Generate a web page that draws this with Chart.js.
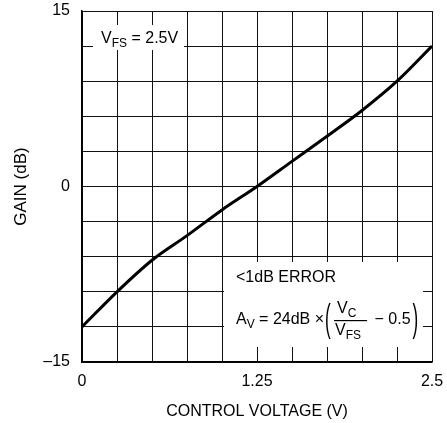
<!DOCTYPE html>
<html>
<head>
<meta charset="utf-8">
<script src="https://cdn.jsdelivr.net/npm/chart.js@4/dist/chart.umd.min.js"></script>
<style>
  html, body { margin: 0; padding: 0; background: #fff; }
  #wrap { width: 447px; height: 423px; }
</style>
</head>
<body>
<div id="wrap"><canvas id="grafico" width="447" height="423"></canvas></div>
<script>
// values
const voltage = [0, 0.25, 0.5, 0.75, 1.0, 1.25, 1.5, 1.75, 2.0, 2.25, 2.5];
const gain = [-12, -9, -6.3, -4.2, -2.0, 0, 2.15, 4.3, 6.5, 9, 12];
const xTickLabels = { '0': '0', '1.25': '1.25', '2.5': '2.5' };
const yTickLabels = { '15': '15', '0': '0', '-15': '\u201315' };

const FONT = '"Liberation Sans Narrow", "Liberation Sans", Arial, sans-serif';

function label(map, v) {
    const k = Object.keys(map).find(key => Math.abs(parseFloat(key) - v) < 1e-6);
    return k === undefined ? '' : map[k];
}

// text boxes drawn over the grid
const notes = {
    id: 'notes',
    afterDatasetsDraw(chart) {
        const c = chart.ctx;
        const a = chart.chartArea;
        c.save();
        c.fillStyle = '#fff';
        c.fillRect(a.left + 11, a.top + 14, 91, 25);
        c.fillRect(a.left + 142, a.top + 251, 199, 85);

        c.fillStyle = '#000';
        c.textBaseline = 'alphabetic';
        c.textAlign = 'left';

        // V_FS = 2.5V
        let x = a.left + 19, y = a.top + 32;
        c.font = '16px ' + FONT;
        c.fillText('V', x, y); x += c.measureText('V').width;
        c.font = '12px ' + FONT;
        c.fillText('FS', x, y + 4); x += c.measureText('FS').width;
        c.font = '16px ' + FONT;
        c.fillText(' = 2.5V', x, y);

        // <1dB ERROR
        c.fillText('<1dB ERROR', a.left + 154, a.top + 271);

        // A_V = 24dB x ( V_C / V_FS - 0.5 )
        x = a.left + 154; y = a.top + 313;
        c.fillText('A', x, y); x += c.measureText('A').width;
        c.font = '12px ' + FONT;
        c.fillText('V', x, y + 4); x += c.measureText('V').width;
        c.font = '16px ' + FONT;
        c.fillText(' = 24dB \u00d7', x, y); x += c.measureText(' = 24dB \u00d7').width + 1;

        c.save();
        c.font = '17px ' + FONT;
        c.translate(x, a.top + 309);
        c.scale(1, 2.3);
        c.textBaseline = 'middle';
        c.fillText('(', 0, 0);
        c.restore();
        x += 9;

        const fx = x;
        c.font = '16px ' + FONT;
        c.fillText('V', fx + 3, a.top + 302);
        let w = c.measureText('V').width;
        c.font = '12px ' + FONT;
        c.fillText('C', fx + 3 + w, a.top + 306);
        c.font = '16px ' + FONT;
        c.fillText('V', fx + 1, a.top + 324);
        c.font = '12px ' + FONT;
        c.fillText('FS', fx + 1 + w, a.top + 328);
        c.fillRect(fx, a.top + 309, 33, 1.2);
        x = fx + 36;

        c.font = '16px ' + FONT;
        c.fillText(' \u2212 0.5', x, y); x += c.measureText(' \u2212 0.5').width + 2;

        c.save();
        c.font = '17px ' + FONT;
        c.translate(x, a.top + 309);
        c.scale(1, 2.3);
        c.textBaseline = 'middle';
        c.fillText(')', 0, 0);
        c.restore();

        c.restore();
    }
};

new Chart(document.getElementById('grafico'), {
    type: 'line',
    data: {
        datasets: [{
            data: voltage.map((v, i) => ({ x: v, y: gain[i] })),
            borderColor: '#000',
            borderWidth: 3,
            pointRadius: 0,
            cubicInterpolationMode: 'monotone',
            fill: false
        }]
    },
    options: {
        responsive: false,
        animation: false,
        layout: { padding: { top: 11, right: 15, left: 0, bottom: 0 } },
        plugins: { legend: { display: false }, tooltip: { enabled: false } },
        scales: {
            x: {
                type: 'linear',
                min: 0,
                max: 2.5,
                afterFit(s) { s.height = 61; },
                ticks: {
                    stepSize: 0.25,
                    autoSkip: false,
                    maxRotation: 0,
                    padding: 0,
                    color: '#000',
                    font: { family: FONT, size: 16 },
                    callback: v => label(xTickLabels, v)
                },
                // invisible tick marks keep the labels clear of the axis
                grid: { color: '#111', lineWidth: 1, drawTicks: true, tickLength: 10, tickColor: 'rgba(0,0,0,0)' },
                border: { color: '#000', width: 1.5 },
                title: {
                    display: true,
                    text: 'CONTROL VOLTAGE (V)',
                    color: '#000',
                    font: { family: FONT, size: 16 },
                    padding: { top: 4, bottom: 2 }
                }
            },
            y: {
                min: -15,
                max: 15,
                afterFit(s) { s.width = 82; },
                ticks: {
                    stepSize: 3,
                    autoSkip: false,
                    padding: 0,
                    color: '#000',
                    font: { family: FONT, size: 16 },
                    callback: v => label(yTickLabels, v)
                },
                grid: { color: '#111', lineWidth: 1, drawTicks: true, tickLength: 12, tickColor: 'rgba(0,0,0,0)' },
                border: { color: '#000', width: 1.5 },
                title: {
                    display: true,
                    text: 'GAIN (dB)',
                    color: '#000',
                    font: { family: FONT, size: 17 },
                    padding: { top: 11, bottom: 4 }
                }
            }
        }
    },
    plugins: [notes]
});
</script>
</body>
</html>
